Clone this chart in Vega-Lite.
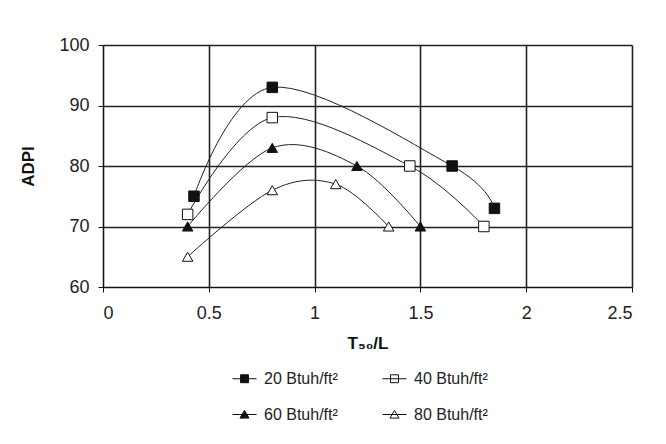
{
  "$schema": "https://vega.github.io/schema/vega-lite/v6.json",
  "width": 529,
  "height": 242,
  "autosize": {"type": "none"},
  "padding": {"left": 103, "top": 45, "right": 34, "bottom": 157},
  "background": "white",
  "config": {
    "font": "Liberation Sans",
    "view": {"stroke": null},
    "axis": {
      "labelFont": "Liberation Sans",
      "labelFontSize": 18,
      "labelColor": "#222",
      "titleFont": "Liberation Sans",
      "titleFontSize": 17,
      "titleFontWeight": "bold",
      "titleColor": "#111",
      "domainColor": "#111",
      "domainWidth": 1,
      "tickColor": "#111",
      "tickSize": 5,
      "tickWidth": 1,
      "gridColor": "#222",
      "gridWidth": 1.6,
      "gridOpacity": 1
    },
    "legend": {
      "labelFont": "Liberation Sans",
      "labelFontSize": 16,
      "labelColor": "#222",
      "orient": "none",
      "legendX": 129,
      "legendY": 321,
      "direction": "horizontal",
      "columns": 2,
      "columnPadding": 42,
      "rowPadding": 15,
      "symbolSize": 576,
      "symbolStrokeWidth": 1,
      "symbolOpacity": 1,
      "labelOffset": 7
    }
  },
  "data": {
    "values": [
      {"series": "20 Btuh/ft²", "x": 0.43, "y": 75},
      {"series": "20 Btuh/ft²", "x": 0.8, "y": 93},
      {"series": "20 Btuh/ft²", "x": 1.65, "y": 80},
      {"series": "20 Btuh/ft²", "x": 1.85, "y": 73},
      {"series": "40 Btuh/ft²", "x": 0.4, "y": 72},
      {"series": "40 Btuh/ft²", "x": 0.8, "y": 88},
      {"series": "40 Btuh/ft²", "x": 1.45, "y": 80},
      {"series": "40 Btuh/ft²", "x": 1.8, "y": 70},
      {"series": "60 Btuh/ft²", "x": 0.4, "y": 70},
      {"series": "60 Btuh/ft²", "x": 0.8, "y": 83},
      {"series": "60 Btuh/ft²", "x": 1.2, "y": 80},
      {"series": "60 Btuh/ft²", "x": 1.5, "y": 70},
      {"series": "80 Btuh/ft²", "x": 0.4, "y": 65},
      {"series": "80 Btuh/ft²", "x": 0.8, "y": 76},
      {"series": "80 Btuh/ft²", "x": 1.1, "y": 77},
      {"series": "80 Btuh/ft²", "x": 1.35, "y": 70}
    ]
  },
  "encoding": {
    "x": {
      "field": "x",
      "type": "quantitative",
      "scale": {"domain": [0, 2.5], "nice": false, "zero": false},
      "axis": {
        "values": [0, 0.5, 1, 1.5, 2, 2.5],
        "format": "~g",
        "title": "T₅₀/L",
        "labelPadding": 12,
        "titlePadding": 13
      }
    },
    "y": {
      "field": "y",
      "type": "quantitative",
      "scale": {"domain": [60, 100], "nice": false, "zero": false},
      "axis": {
        "values": [60, 70, 80, 90, 100],
        "title": "ADPI",
        "labelPadding": 9,
        "titlePadding": 21
      }
    }
  },
  "layer": [
    {
      "mark": {"type": "line", "interpolate": "cardinal", "color": "#222", "strokeWidth": 1},
      "encoding": {"detail": {"field": "series", "type": "nominal"}}
    },
    {
      "mark": {"type": "point", "filled": true, "opacity": 0, "size": 400, "strokeWidth": 1},
      "encoding": {
        "shape": {
          "field": "series",
          "type": "nominal",
          "scale": {
            "domain": ["20 Btuh/ft²", "40 Btuh/ft²", "60 Btuh/ft²", "80 Btuh/ft²"],
            "range": ["M-1,0H1M-0.33,-0.33H0.33V0.33H-0.33Z", "M-1,0H1M-0.33,-0.33H0.33V0.33H-0.33Z", "M-1,0H1M0,-0.34L0.38,0.3H-0.38Z", "M-1,0H1M0,-0.34L0.38,0.3H-0.38Z"]
          },
          "legend": {"title": null}
        },
        "fill": {
          "field": "series",
          "type": "nominal",
          "scale": {
            "domain": ["20 Btuh/ft²", "40 Btuh/ft²", "60 Btuh/ft²", "80 Btuh/ft²"],
            "range": ["#111", "white", "#111", "white"]
          },
          "legend": {"title": null}
        },
        "stroke": {
          "field": "series",
          "type": "nominal",
          "scale": {
            "domain": ["20 Btuh/ft²", "40 Btuh/ft²", "60 Btuh/ft²", "80 Btuh/ft²"],
            "range": ["#111", "#111", "#111", "#111"]
          },
          "legend": {"title": null}
        }
      }
    },
    {
      "mark": {"type": "point", "filled": true, "size": 110, "stroke": "#111", "strokeWidth": 1, "opacity": 1},
      "encoding": {
        "shape": {
          "field": "series",
          "type": "nominal",
          "scale": {
            "domain": ["20 Btuh/ft²", "40 Btuh/ft²", "60 Btuh/ft²", "80 Btuh/ft²"],
            "range": ["square", "square", "triangle-up", "triangle-up"]
          },
          "legend": null
        },
        "fill": {
          "field": "series",
          "type": "nominal",
          "scale": {
            "domain": ["20 Btuh/ft²", "40 Btuh/ft²", "60 Btuh/ft²", "80 Btuh/ft²"],
            "range": ["#111", "white", "#111", "white"]
          },
          "legend": null
        }
      }
    }
  ],
  "resolve": {
    "scale": {"shape": "independent", "fill": "independent", "stroke": "independent"},
    "legend": {"shape": "independent", "fill": "independent", "stroke": "independent"}
  }
}
